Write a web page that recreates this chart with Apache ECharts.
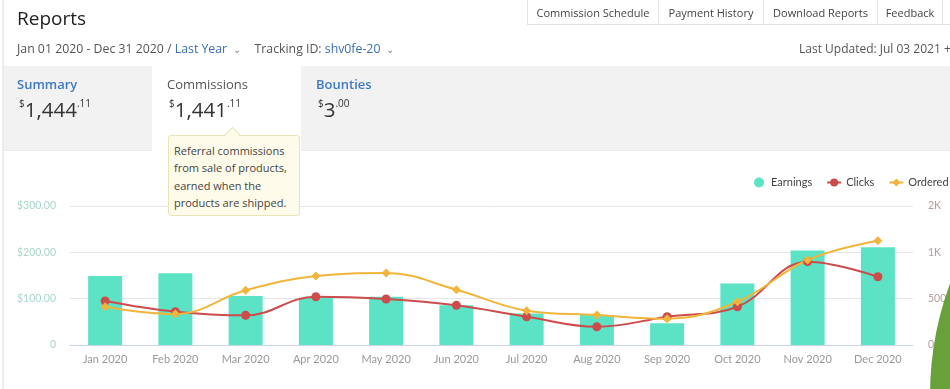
<!DOCTYPE html>
<html>
<head>
<meta charset="utf-8">
<script src="https://cdn.jsdelivr.net/npm/echarts@6/dist/echarts.min.js"></script>
<style>
html,body{margin:0;padding:0;width:950px;height:389px;overflow:hidden;background:#fff;font-family:"Open Sans",sans-serif;}
.abs{position:absolute;}
#leftline{left:2px;top:0;width:2px;height:389px;background:#ececec;}
#title{left:17px;top:5px;font-size:19px;color:#222;}
#dates{left:17px;top:40px;font-size:12.3px;color:#555;white-space:nowrap;}
.blue{color:#3a6fb0;}
.chev{color:#888;font-size:10px;margin-left:6px;margin-right:7px;}
#btns{left:527px;top:-1px;height:27px;display:flex;white-space:nowrap;}
.btn{border:1px solid #e3e3e3;border-left:none;font-size:11px;color:#444;height:26px;line-height:26px;text-align:center;box-sizing:border-box;}
.btn:first-child{border-left:1px solid #e3e3e3;}
#updated{left:799px;top:40px;font-size:12px;color:#555;white-space:nowrap;}
#band{left:4px;top:66px;width:946px;height:84px;background:#f2f2f2;border-bottom:1px solid #ebebeb;}
#activetab{left:152px;top:66px;width:149px;height:86px;background:#fff;}
.tabname{font-size:13px;font-weight:600;color:#3f7ac0;white-space:nowrap;}
.amt{font-size:20.5px;color:#333;white-space:nowrap;}
.amt sup{font-size:10px;vertical-align:top;position:relative;top:1px;}
#tip{left:168px;top:135px;width:132px;height:81px;background:#fffbea;border:1px solid #ebe2b8;border-radius:3px;box-sizing:border-box;font-size:11px;color:#444;line-height:17.4px;padding:6px 0 0 5px;z-index:5;}
#tiparrow{left:227px;top:129px;width:10px;height:10px;background:#fffbea;border-left:1px solid #ebe2b8;border-top:1px solid #ebe2b8;transform:rotate(45deg);z-index:6;}
#chart{left:0;top:0;width:1060px;height:389px;}
#green{left:930px;top:75px;width:640px;height:640px;border-radius:50%;background:#68a03a;z-index:7;}
</style>
</head>
<body>
<div id="chart" class="abs"></div>
<div id="leftline" class="abs"></div>
<div id="title" class="abs">Reports</div>
<div id="dates" class="abs">Jan 01 2020 - Dec 31 2020 / <span class="blue">Last Year</span><span class="chev">&#8964;</span> &nbsp;Tracking ID: <span class="blue">shv0fe-20</span><span class="chev">&#8964;</span></div>
<div id="btns" class="abs">
  <div class="btn" style="width:132px">Commission Schedule</div>
  <div class="btn" style="width:105px">Payment History</div>
  <div class="btn" style="width:114px">Download Reports</div>
  <div class="btn" style="width:65px">Feedback</div>
  <div class="btn" style="width:40px"></div>
</div>
<div id="updated" class="abs">Last Updated: Jul 03 2021 +</div>
<div id="band" class="abs"></div>
<div id="activetab" class="abs"></div>
<div class="abs tabname" style="left:17px;top:75px;">Summary</div>
<div class="abs amt" style="left:19px;top:95px;"><sup>$</sup>1,444<sup>.11</sup></div>
<div class="abs tabname" style="left:167px;top:75px;color:#555;font-weight:400;">Commissions</div>
<div class="abs amt" style="left:169px;top:95px;"><sup>$</sup>1,441<sup>.11</sup></div>
<div class="abs tabname" style="left:316px;top:75px;">Bounties</div>
<div class="abs amt" style="left:318px;top:95px;"><sup>$</sup>3<sup>.00</sup></div>
<div id="tiparrow" class="abs"></div>
<div id="tip" class="abs">Referral commissions<br>from sale of products,<br>earned when the<br>products are shipped.</div>
<div id="green" class="abs"></div>
<script>
var categories = ['Jan 2020','Feb 2020','Mar 2020','Apr 2020','May 2020','Jun 2020','Jul 2020','Aug 2020','Sep 2020','Oct 2020','Nov 2020','Dec 2020'];
var earnings = [149,155,106,102,104,86,68,65,47,133,204,211];
var clicks = [475,360,320,521,496,428,305,197,305,413,899,737];
var ordered = [413,334,590,744,777,597,370,324,284,467,917,1125];
var leftTicks = {min:0,max:300,interval:100};
var rightTicks = {min:0,max:1500,interval:500};

var chart = echarts.init(document.getElementById('chart'), null, {renderer:'canvas'});
chart.setOption({
  animation:false,
  textStyle:{fontFamily:'Lato, sans-serif'},
  legend:{
    left:749, top:172, itemGap:14, itemWidth:14, itemHeight:10,
    textStyle:{fontSize:11, color:'#444', fontFamily:'Lato, sans-serif'},
    data:[{name:'Earnings', icon:'circle'},{name:'Clicks'},{name:'Ordered Items'}]
  },
  grid:{left:70, right:1060-913, top:206, bottom:389-345, containLabel:false},
  xAxis:{
    type:'category', data:categories,
    axisLine:{lineStyle:{color:'#ccd6eb'}}, axisTick:{show:false},
    axisLabel:{color:'#999', fontSize:11, margin:9}
  },
  yAxis:[{
    type:'value', min:leftTicks.min, max:leftTicks.max, interval:leftTicks.interval,
    axisLine:{show:false}, axisTick:{show:false},
    splitLine:{lineStyle:{color:'#e6e6e6'}},
    axisLabel:{color:'#a9d6c9', fontSize:10.5, margin:14, formatter:function(v){return v===0?'0':'$'+v.toFixed(2);}}
  },{
    type:'value', min:rightTicks.min, max:rightTicks.max, interval:rightTicks.interval,
    axisLine:{show:false}, axisTick:{show:false}, splitLine:{show:false},
    axisLabel:{color:'#b59c9c', fontSize:10.5, margin:15, formatter:function(v){return v>=1000?Math.round(v/1000)+'K':String(v);}}
  }],
  series:[{
    name:'Earnings', type:'bar', data:earnings, yAxisIndex:0, barWidth:34,
    itemStyle:{color:'#5ce2c5'}
  },{
    name:'Clicks', type:'line', data:clicks, yAxisIndex:1, smooth:0.4,
    symbol:'circle', symbolSize:9, lineStyle:{color:'#cc4b4b', width:2},
    itemStyle:{color:'#cc4b4b'}
  },{
    name:'Ordered Items', type:'line', data:ordered, yAxisIndex:1, smooth:0.4,
    symbol:'diamond', symbolSize:9, lineStyle:{color:'#f2b53c', width:2},
    itemStyle:{color:'#f2b53c'}
  }]
});
</script>
</body>
</html>
